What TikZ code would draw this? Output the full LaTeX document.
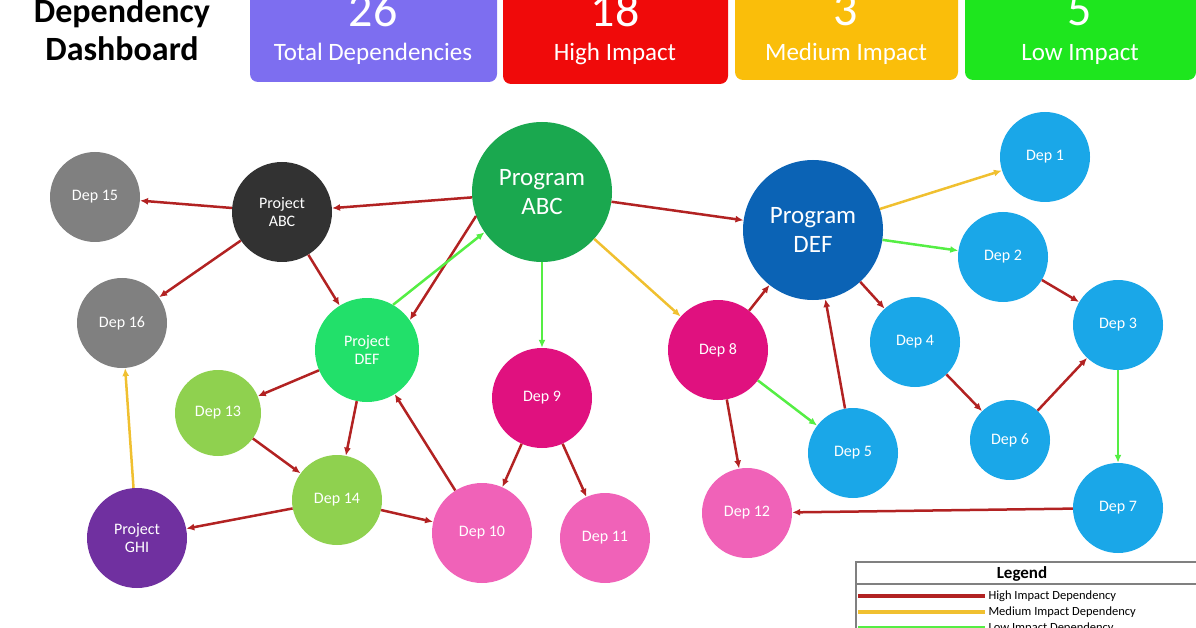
\documentclass[tikz,border=0pt]{standalone}
\usepackage{fontspec}
\setmainfont{Carlito}
\usetikzlibrary{arrows.meta}
\definecolor{hi}{HTML}{B22222}
\definecolor{me}{HTML}{F0C030}
\definecolor{lo}{HTML}{55EE44}
\definecolor{cy}{HTML}{1AA7E8}
\definecolor{gr}{HTML}{808080}
\definecolor{lg}{HTML}{8FD14F}
\definecolor{mg}{HTML}{E0117F}
\definecolor{pk}{HTML}{F062B8}
\begin{document}
\begin{tikzpicture}[x=1pt,y=-1pt,
 c/.style={circle,inner sep=0pt,text=white,align=center,font=\fontsize{16}{18}\selectfont},
 h/.style={hi,line width=2.5pt,-{Latex[length=8pt,width=7pt]}},
 m/.style={me,line width=2.5pt,-{Latex[length=8pt,width=7pt]}},
 l/.style={lo,line width=2.5pt,-{Latex[length=8pt,width=7pt]}},
 box/.style={rounded corners=8pt,draw=none}]
\useasboundingbox (0,0) rectangle (1196,628);
\clip (0,0) rectangle (1196,628);
\node[font=\bfseries\fontsize{34}{38}\selectfont,align=center] (title) at (122,30) {Dependency\\Dashboard};
\fill[box,fill={rgb,255:red,125;green,110;blue,240}] (250,-20) rectangle (497,82);
\fill[box,fill={rgb,255:red,240;green,10;blue,10}] (503,-20) rectangle (728,84);
\fill[box,fill={rgb,255:red,250;green,190;blue,10}] (735,-20) rectangle (958,80);
\fill[box,fill={rgb,255:red,30;green,230;blue,30}] (965,-20) rectangle (1196,80);
\foreach \x/\n/\t in {373/26/Total Dependencies,615/18/High Impact,846/3/Medium Impact,1080/5/Low Impact}{
 \node[text=white,font=\fontsize{48}{48}\selectfont] at (\x,10) {\n};
 \node[text=white,font=\fontsize{25}{26}\selectfont] at (\x,54) {\t};}
\node[c,fill=gr,minimum size=90pt] (d15) at (95,197) {Dep 15};
\node[c,fill={rgb,255:red,50;green,50;blue,50},minimum size=100pt] (pabc) at (282,212) {Project\\ABC};
\node[c,fill=gr,minimum size=90pt] (d16) at (122,323) {Dep 16};
\node[c,fill={rgb,255:red,26;green,168;blue,79},minimum size=140pt,font=\fontsize{25}{29}\selectfont] (gabc) at (542,192) {Program\\ABC};
\node[c,fill={rgb,255:red,34;green,224;blue,106},minimum size=104pt] (pdef) at (367,350) {Project\\DEF};
\node[c,fill=lg,minimum size=86pt] (d13) at (218,413) {Dep 13};
\node[c,fill=lg,minimum size=90pt] (d14) at (337,500) {Dep 14};
\node[c,fill={rgb,255:red,112;green,48;blue,160},minimum size=100pt] (pghi) at (137,538) {Project\\GHI};
\node[c,fill=mg,minimum size=100pt] (d9) at (542,398) {Dep 9};
\node[c,fill=pk,minimum size=100pt] (d10) at (482,533) {Dep 10};
\node[c,fill=pk,minimum size=90pt] (d11) at (605,538) {Dep 11};
\node[c,fill=mg,minimum size=100pt] (d8) at (718,350) {Dep 8};
\node[c,fill=pk,minimum size=90pt] (d12) at (747,513) {Dep 12};
\node[c,fill={rgb,255:red,11;green,99;blue,181},minimum size=140pt,font=\fontsize{25}{29}\selectfont] (gdef) at (813,230) {Program\\DEF};
\node[c,fill=cy,minimum size=90pt] (d1) at (1045,157) {Dep 1};
\node[c,fill=cy,minimum size=90pt] (d2) at (1003,257) {Dep 2};
\node[c,fill=cy,minimum size=90pt] (d3) at (1118,325) {Dep 3};
\node[c,fill=cy,minimum size=90pt] (d4) at (915,342) {Dep 4};
\node[c,fill=cy,minimum size=90pt] (d5) at (853,453) {Dep 5};
\node[c,fill=cy,minimum size=80pt] (d6) at (1010,440) {Dep 6};
\node[c,fill=cy,minimum size=90pt] (d7) at (1118,508) {Dep 7};
\draw[h] (pabc)--(d15); \draw[h] (pabc)--(d16);
\draw[h] (gabc)--(pabc); \draw[h] (pabc)--(pdef);
\draw[h] (gabc.200)--(pdef.35); \draw[l] (pdef.60)--(gabc.215);
\draw[l] (gabc)--(d9); \draw[m] (gabc)--(d8); \draw[h] (gabc)--(gdef);
\draw[h] (pdef)--(d13); \draw[h] (pdef)--(d14); \draw[h] (d13)--(d14);
\draw[h] (d14)--(pghi); \draw[h] (d14)--(d10); \draw[h] (d10)--(pdef);
\draw[m] (pghi)--(d16); \draw[h] (d9)--(d10); \draw[h] (d9)--(d11);
\draw[h] (d8)--(gdef); \draw[l] (d8)--(d5); \draw[h] (d8)--(d12);
\draw[h] (d5)--(gdef); \draw[m] (gdef)--(d1); \draw[l] (gdef)--(d2);
\draw[h] (gdef)--(d4); \draw[h] (d2)--(d3); \draw[h] (d4)--(d6);
\draw[h] (d6)--(d3); \draw[l] (d3)--(d7); \draw[h] (d7)--(d12);
% legend
\draw[line width=1.2pt,gray] (856,640) |- (1196,562);
\draw[line width=1.2pt,gray] (856,584) -- (1196,584);
\node[font=\bfseries\fontsize{17}{17}\selectfont] (lt) at (1022,574) {Legend};
\draw[hi,line width=3.5pt] (858,596)--(985,596);
\node[anchor=west,font=\fontsize{12.5}{12}\selectfont] (l1) at (985,596) {High Impact Dependency};
\draw[me,line width=3.5pt] (858,612)--(985,612);
\node[anchor=west,font=\fontsize{12.5}{12}\selectfont] (l2) at (985,612) {Medium Impact Dependency};
\draw[lo,line width=3.5pt] (858,628)--(985,628);
\node[anchor=west,font=\fontsize{12.5}{12}\selectfont] (l3) at (985,628) {Low Impact Dependency};
\end{tikzpicture}
\end{document}
